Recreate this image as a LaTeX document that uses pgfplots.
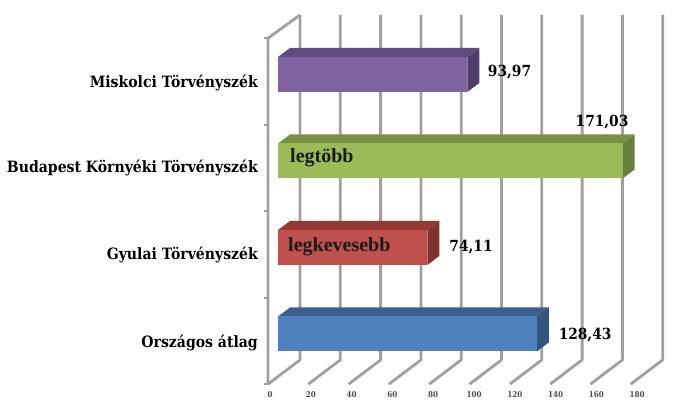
\documentclass[border=0pt]{standalone}
\usepackage{pgfplots}
\pgfplotsset{compat=1.18}
\usepackage{fontspec}
\setmainfont{Liberation Serif}
\newfontfamily\heavyfont{DejaVu Serif Condensed}
\definecolor{purpF}{HTML}{8064A2}\definecolor{purpT}{HTML}{5F4B7D}\definecolor{purpS}{HTML}{503C69}
\definecolor{grnF}{HTML}{9BBB59}\definecolor{grnT}{HTML}{789146}\definecolor{grnS}{HTML}{69803C}
\definecolor{redF}{HTML}{C0504D}\definecolor{redT}{HTML}{963734}\definecolor{redS}{HTML}{823230}
\definecolor{bluF}{HTML}{4F81BD}\definecolor{bluT}{HTML}{3C5F8C}\definecolor{bluS}{HTML}{32557D}
\definecolor{gridc}{RGB}{160,160,160}
% depth of a bar (axis units): 12px in x, 9px in y
\def\dx{5.96}\def\dy{0.104}\def\hh{0.2023}
\newcommand{\threedbar}[5]{% #1 y, #2 value, #3 front, #4 top, #5 side
  \pgfmathsetmacro\yt{#1+\hh}\pgfmathsetmacro\yb{#1-\hh}%
  \pgfmathsetmacro\ytt{#1+\hh+\dy}\pgfmathsetmacro\ybb{#1-\hh+\dy}%
  \pgfmathsetmacro\xe{#2+\dx}%
  \addplot[fill=#4, draw=none, mark=none, forget plot] coordinates {(0,\yt) (#2,\yt) (\xe,\ytt) (\dx,\ytt) (0,\yt)};
  \addplot[fill=#5, draw=none, mark=none, forget plot] coordinates {(#2,\yb) (#2,\yt) (\xe,\ytt) (\xe,\ybb) (#2,\yb)};
  \addplot[xbar, bar width=35bp, bar shift=0pt, fill=#3, draw=none, forget plot] coordinates {(#2,#1)};
}
\begin{document}
\begin{tikzpicture}
\begin{axis}[
  x=2.015bp, y=86.5bp,
  xmin=-137.97, xmax=200, ymin=-0.890, ymax=3.861,
  hide axis, clip=false, scale only axis,
]
\path (rel axis cs:0,0) rectangle (rel axis cs:1,1);
% back wall gridlines and floor
\foreach \i in {0,...,9}{
  \edef\tmp{\noexpand\draw[gridc, line width=2.8bp, line join=round] (axis cs:{10.92+20*\i},3.688) -- (axis cs:{10.92+20*\i},-0.30) -- (axis cs:{-4.96+20*\i},-0.58);}
  \tmp
}
% left wall
\draw[gridc, line width=2.8bp, line join=round] (axis cs:-4.96,-0.58) -- (axis cs:-4.96,3.42) -- (axis cs:10.92,3.688);
\foreach \t in {-0.58,0.42,1.42,2.42,3.42}{
  \edef\tmp{\noexpand\draw[gridc, line width=2bp] (axis cs:-4.96,\t) -- (axis cs:-6.95,\t);}
  \tmp
}
% bars
\threedbar{0}{128.43}{bluF}{bluT}{bluS}
\threedbar{1}{74.11}{redF}{redT}{redS}
\threedbar{2}{171.03}{grnF}{grnT}{grnS}
\threedbar{3}{93.97}{purpF}{purpT}{purpS}
% category labels
\begin{scope}[every node/.style={font=\heavyfont\bfseries\fontsize{15.6bp}{16bp}\selectfont, anchor=east, inner sep=0pt}]
\node at (axis cs:-9.93,2.90) {Miskolci Törvényszék};
\node at (axis cs:-9.93,1.92) {Budapest Környéki Törvényszék};
\node at (axis cs:-9.93,0.913) {Gyulai Törvényszék};
\node at (axis cs:-9.93,-0.104) {Országos átlag};
\end{scope}
% value labels
\begin{scope}[every node/.style={font=\heavyfont\bfseries\fontsize{15.3bp}{16bp}\selectfont, inner sep=0pt}]
\node at (axis cs:114.9,3.029) {93,97};
\node at (axis cs:160.8,2.451) {171,03};
\node at (axis cs:95.8,1.006) {74,11};
\node at (axis cs:152.4,-0.012) {128,43};
\end{scope}
% inner labels
\begin{scope}[every node/.style={font=\bfseries\fontsize{20bp}{21bp}\selectfont, anchor=west, inner sep=0pt, text=black!90}]
\node at (axis cs:5.96,2.035) {legtöbb};
\node at (axis cs:4.96,1.006) {legkevesebb};
\end{scope}
% tick labels
\foreach \i/\l in {0/0,1/20,2/40,3/60,4/80,5/100,6/120,7/140,8/160,9/180}{
  \edef\tmp{\noexpand\node[font=\noexpand\heavyfont\noexpand\bfseries\noexpand\fontsize{8bp}{9bp}\noexpand\selectfont, text=black!70, inner sep=0pt] at (axis cs:{-3.97+20.25*\i},-0.705) {\l};}
  \tmp
}
\end{axis}
\end{tikzpicture}
\end{document}
